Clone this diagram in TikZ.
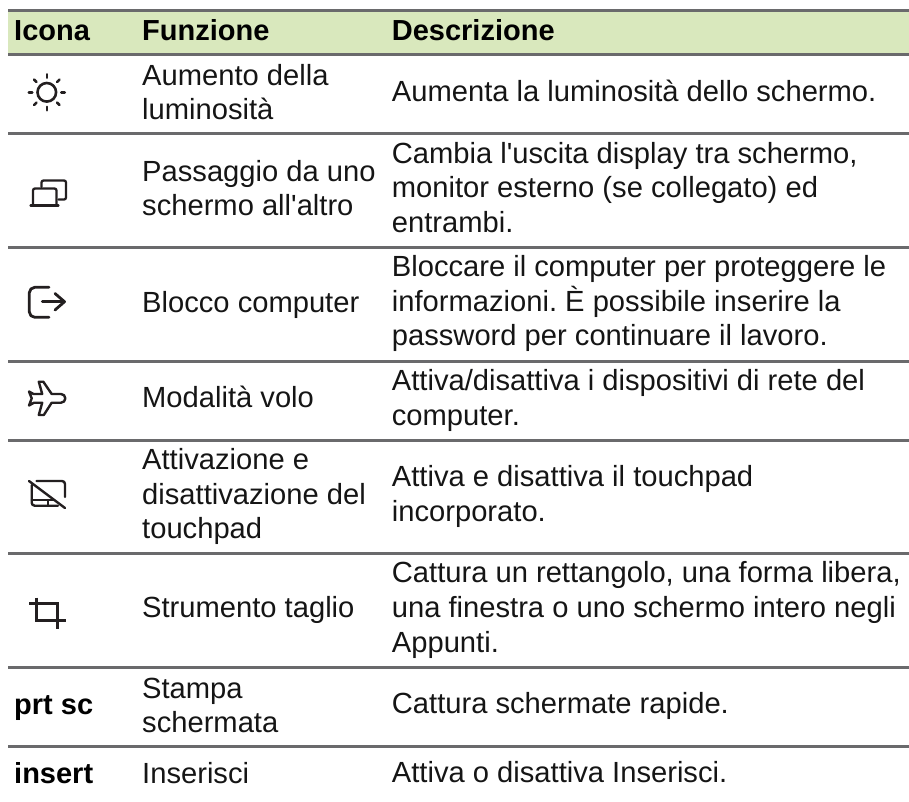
\documentclass[tikz,border=0pt]{standalone}
\usepackage{fontspec}
\usetikzlibrary{calc}
\setmainfont{Liberation Sans}[Ligatures=TeXOff]
\definecolor{rulegray}{HTML}{6A6A6C}
\definecolor{icodark}{HTML}{231F20}
\definecolor{headbg}{HTML}{D9E8BD}
\definecolor{inktxt}{HTML}{151515}
\tikzset{
  txt/.style={anchor=base west,inner sep=0pt,text=inktxt,font=\fontsize{29.15}{29}\selectfont\frenchspacing},
  hd/.style={txt,text=black,font=\fontsize{29}{29}\selectfont\bfseries},
  rulex/.style={line width=3pt,color=rulegray},
  ico/.style={line width=2.6pt,color=icodark,line cap=round,line join=round},
}
\begin{document}
\begin{tikzpicture}[x=1pt,y=-1pt]
\useasboundingbox (0,0) rectangle (909,801);
\fill[headbg] (8,10) rectangle (909,54);
\foreach \y in {10.5,54,133,247,361,440,553,667,746} \draw[rulex] (8,\y) -- (909,\y);
% header
\node[hd] (h1) at (14,40) {Icona};
\node[hd] (h2) at (142,40) {Funzione};
\node[hd] (h3) at (391.7,40) {Descrizione};
% col 2
\node[txt] (a1) at (142,85) {Aumento della};
\node[txt] (a2) at (142,119) {luminosità};
\node[txt] (b1) at (142,181) {Passaggio da uno};
\node[txt] (b2) at (142,215) {schermo all'altro};
\node[txt] (c1) at (142,312) {Blocco computer};
\node[txt] (d1) at (142,407.5) {Modalità volo};
\node[txt] (e1) at (142,469.5) {Attivazione e};
\node[txt] (e2) at (142,504) {disattivazione del};
\node[txt] (e3) at (142,538.5) {touchpad};
\node[txt] (f1) at (142,617) {Strumento taglio};
\node[txt] (g1) at (142,698) {Stampa};
\node[txt] (g2) at (142,732) {schermata};
\node[txt] (h4) at (142,783) {Inserisci};
% col 3
\node[txt] (k1) at (391.7,101) {Aumenta la luminosità dello schermo.};
\node[txt] (k2) at (391.7,163.3) {Cambia l'uscita display tra schermo,};
\node[txt] (k3) at (391.7,197.6) {monitor esterno (se collegato) ed};
\node[txt] (k4) at (391.7,232) {entrambi.};
\node[txt] (k5) at (391.7,276.5) {Bloccare il computer per proteggere le};
\node[txt] (k6) at (391.7,311) {informazioni. \char"C8{} possibile inserire la};
\node[txt] (k7) at (391.7,345) {password per continuare il lavoro.};
\node[txt] (k8) at (391.7,390.7) {Attiva/disattiva i dispositivi di rete del};
\node[txt] (k9) at (391.7,425.7) {computer.};
\node[txt] (k10) at (391.7,486.7) {Attiva e disattiva il touchpad};
\node[txt] (k11) at (391.7,521.7) {incorporato.};
\node[txt] (k12) at (391.7,582.5) {Cattura un rettangolo, una forma libera,};
\node[txt] (k13) at (391.7,617.3) {una finestra o uno schermo intero negli};
\node[txt] (k14) at (391.7,652) {Appunti.};
\node[txt] (k15) at (391.7,713.5) {Cattura schermate rapide.};
\node[txt] (k16) at (391.7,782.7) {Attiva o disattiva Inserisci.};
% col 1 text
\node[hd] (p1) at (14,714) {prt sc};
\node[hd] (p2) at (14,783) {insert};
% sun
\draw[ico] (46.8,92.3) circle[radius=9.3];
\foreach \a in {0,45,...,315} \draw[ico] ($(46.8,92.3)+(\a:14.5)$) -- ($(46.8,92.3)+(\a:18)$);
% screens
\draw[ico,line width=2.3pt,rounded corners=2pt] (41.5,187) -- (41.5,180.5) -- (66,180.5) -- (66,199.5) -- (58.5,199.5);
\draw[ico,line width=2.3pt,rounded corners=2pt] (33,205.5) -- (33,188.5) -- (56.5,188.5) -- (56.5,205.5);
\draw[ico,line width=2.3pt] (30.5,205.5) -- (58.5,205.5);
% lock: bracket + arrow
\draw[ico,line width=2.8pt,rounded corners=5.5pt] (49,287.3) -- (29.3,287.3) -- (29.3,317.3) -- (49,317.3);
\draw[ico,line width=2.8pt] (42.3,301.7) -- (64.5,301.7);
\draw[ico,line width=2.8pt] (55,293.5) -- (64.5,301.7) -- (55,310);
% plane
\draw[ico,line width=2.4pt] (51.7,394) -- (43.3,381.7) -- (38.8,381.7) -- (42.2,394) -- (33.5,394) -- (29,391.5) -- (31.7,398.3) -- (29,405.5) -- (34,402.7) -- (42.2,402.7) -- (38.8,415) -- (43.8,415) -- (51.7,402.7) -- (61,402.7) arc[start angle=90,end angle=-90,radius=4.35,y=-1pt] -- cycle;
% touchpad
\draw[ico,line width=2.4pt] (29,481) -- (65,508);
\draw[ico,line width=2.4pt,rounded corners=3pt] (36.5,481) -- (65,481) -- (65,497);
\draw[ico,line width=2.4pt,rounded corners=3pt] (31.7,485) -- (31.7,505.7) -- (58,505.7);
\draw[ico,line width=2.4pt] (31.7,500) -- (54,500) (47.7,500) -- (47.7,505.7);
% crop
\draw[ico,line cap=butt,line width=2.6pt] (29,603.3) -- (58.6,603.3) (57.3,602) -- (57.3,628.5);
\draw[ico,line cap=butt,line width=2.6pt] (36.7,597.5) -- (36.7,622) (35.4,620.7) -- (65.7,620.7);
\end{tikzpicture}
\end{document}
